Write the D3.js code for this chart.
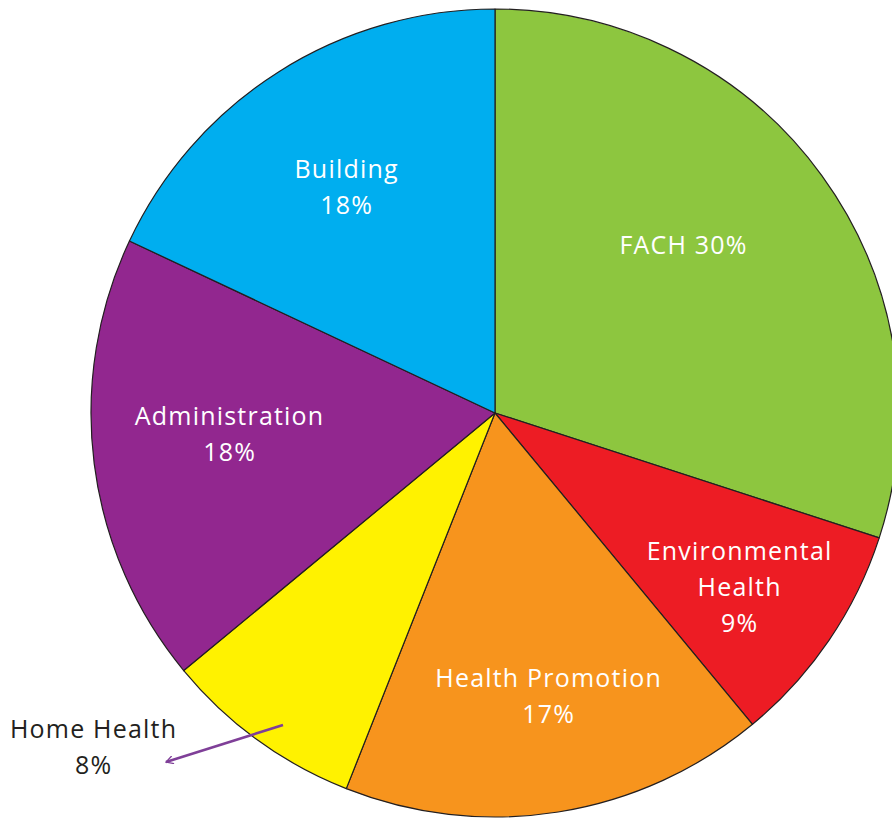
<!DOCTYPE html>
<html>
<head>
<meta charset="utf-8">
<script src="https://cdn.jsdelivr.net/npm/d3@7"></script>
<style>
  html, body { margin: 0; padding: 0; background: #fff; }
  svg { display: block; }
  text { font-family: "Open Sans", "Noto Sans", sans-serif; font-size: 25px; letter-spacing: 1.2px; }
</style>
</head>
<body>
<div id="chart"></div>
<script>
// slices in clockwise order starting at 12 o'clock
const categories = ["FACH", "Environmental Health", "Health Promotion", "Home Health", "Administration", "Building"];
const shares = [30, 9, 17, 8, 18, 18];
const colours = ["#8dc63f", "#ed1c24", "#f7941d", "#fff200", "#92278f", "#00aeef"];

// label lines for each slice
const labelLines = {
  "FACH": ["FACH 30%"],
  "Environmental Health": ["Environmental", "Health", "9%"],
  "Health Promotion": ["Health Promotion", "17%"],
  "Home Health": ["Home Health", "8%"],
  "Administration": ["Administration", "18%"],
  "Building": ["Building", "18%"]
};

const width = 892, height = 818;
const cx = 495, cy = 413, radius = 404;

// where each label block sits, relative to the centre (first line baseline)
const labelAt = {
  "FACH": [188, -159],
  "Environmental Health": [244, 147],
  "Health Promotion": [53, 274],
  "Home Health": [-402, 325],
  "Administration": [-266, 12],
  "Building": [-149, -235]
};

const svg = d3.select("#chart").append("svg")
  .attr("width", width)
  .attr("height", height);

const g = svg.append("g").attr("transform", `translate(${cx},${cy})`);

const data = categories.map((c, i) => ({ name: c, value: shares[i], colour: colours[i] }));

const pie = d3.pie().value(d => d.value).sort(null);
const arc = d3.arc().innerRadius(0).outerRadius(radius);

g.selectAll("path.slice")
  .data(pie(data))
  .join("path")
  .attr("class", "slice")
  .attr("d", arc)
  .attr("fill", d => d.data.colour)
  .attr("stroke", "#231f20")
  .attr("stroke-width", 1.2)
  .attr("stroke-linejoin", "round");

// labels
const labels = g.selectAll("text.label")
  .data(data)
  .join("text")
  .attr("class", "label")
  .attr("text-anchor", "middle")
  .attr("fill", d => d.name === "Home Health" ? "#231f20" : "#fff")
  .attr("transform", d => `translate(${labelAt[d.name][0]},${labelAt[d.name][1]})`);

labels.selectAll("tspan")
  .data(d => labelLines[d.name])
  .join("tspan")
  .attr("x", 0.6)
  .attr("y", (d, i) => i * 36)
  .text(d => d);

// arrow pointing from the yellow slice out to its label
svg.append("defs").append("marker")
  .attr("id", "arrowhead")
  .attr("viewBox", "0 0 10 10")
  .attr("refX", 9)
  .attr("refY", 5)
  .attr("markerWidth", 9)
  .attr("markerHeight", 9)
  .attr("orient", "auto")
  .attr("markerUnits", "userSpaceOnUse")
  .append("path")
  .attr("d", "M1,0.5 L9,5 L1,9.5")
  .attr("fill", "none")
  .attr("stroke", "#7f3f98")
  .attr("stroke-width", 1.4);

g.append("line")
  .attr("x1", -212)
  .attr("y1", 312)
  .attr("x2", -329)
  .attr("y2", 349)
  .attr("stroke", "#7f3f98")
  .attr("stroke-width", 2.6)
  .attr("marker-end", "url(#arrowhead)");
</script>
</body>
</html>
